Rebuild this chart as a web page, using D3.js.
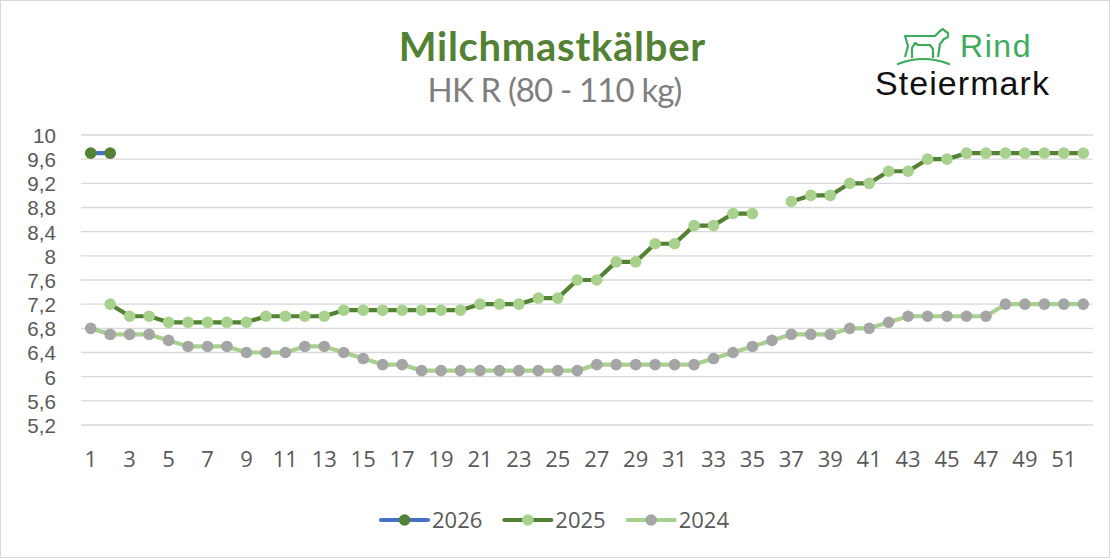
<!DOCTYPE html>
<html>
<head>
<meta charset="utf-8">
<script src="https://cdn.jsdelivr.net/npm/d3@7"></script>
<style>
  html, body { margin: 0; padding: 0; background: #fff; }
  svg { display: block; }
</style>
</head>
<body>
<svg id="chart" width="1110" height="558"></svg>
<script>
// ---------- data ----------
const weeks = d3.range(1, 53);
const xTickLabels = weeks.filter(w => w % 2 === 1);
const yTickValues = [5.2, 5.6, 6.0, 6.4, 6.8, 7.2, 7.6, 8.0, 8.4, 8.8, 9.2, 9.6, 10.0];
const seriesNames = ["2026", "2025", "2024"];

const values2026 = [9.7, 9.7].concat(new Array(50).fill(null));
const values2025 = [null, 7.2, 7.0, 7.0, 6.9, 6.9, 6.9, 6.9, 6.9, 7.0, 7.0, 7.0, 7.0,
  7.1, 7.1, 7.1, 7.1, 7.1, 7.1, 7.1, 7.2, 7.2, 7.2, 7.3, 7.3, 7.6, 7.6, 7.9, 7.9,
  8.2, 8.2, 8.5, 8.5, 8.7, 8.7, null, 8.9, 9.0, 9.0, 9.2, 9.2, 9.4, 9.4, 9.6, 9.6,
  9.7, 9.7, 9.7, 9.7, 9.7, 9.7, 9.7];
const values2024 = [6.8, 6.7, 6.7, 6.7, 6.6, 6.5, 6.5, 6.5, 6.4, 6.4, 6.4, 6.5, 6.5,
  6.4, 6.3, 6.2, 6.2, 6.1, 6.1, 6.1, 6.1, 6.1, 6.1, 6.1, 6.1, 6.1, 6.2, 6.2, 6.2,
  6.2, 6.2, 6.2, 6.3, 6.4, 6.5, 6.6, 6.7, 6.7, 6.7, 6.8, 6.8, 6.9, 7.0, 7.0, 7.0,
  7.0, 7.0, 7.2, 7.2, 7.2, 7.2, 7.2];

// ---------- styles ----------
const styles = {
  "2026": { line: "#4472C4", marker: "#548235" },
  "2025": { line: "#548235", marker: "#A9D18E" },
  "2024": { line: "#A9D18E", marker: "#A5A5A5" }
};
const seriesValues = { "2026": values2026, "2025": values2025, "2024": values2024 };
const FONT = "'Open Sans', 'Liberation Sans', sans-serif";
const YFONT = "'Liberation Sans', Arial, sans-serif";
const TFONT = "Lato, 'Open Sans', sans-serif";
const textColor = "#595959";

const svg = d3.select("#chart");
svg.append("rect").attr("x", 0.5).attr("y", 0.5).attr("width", 1109).attr("height", 557)
  .attr("fill", "#fff").attr("stroke", "#d9d9d9").attr("stroke-width", 1);

const x = d3.scaleBand().domain(weeks).range([81, 1093]);
const y = d3.scaleLinear().domain([5.2, 10]).range([425, 135]);
const cx = w => x(w) + x.bandwidth() / 2;

// gridlines
svg.append("g").selectAll("line").data(yTickValues).join("line")
  .attr("x1", 81).attr("x2", 1093)
  .attr("y1", d => y(d)).attr("y2", d => y(d))
  .attr("stroke", "#d9d9d9").attr("stroke-width", 1.3);

// y axis labels
const fmt = d => d3.format(".1~f")(d).replace(".", ",");
const yAxis = d3.axisLeft(y).tickValues(yTickValues).tickFormat(fmt).tickSize(0).tickPadding(0);
const gy = svg.append("g").attr("transform", "translate(56,0)").call(yAxis);
gy.select(".domain").remove();
gy.selectAll("text").attr("font-family", YFONT).attr("font-size", 20.6).attr("fill", textColor)
  .attr("dy", "0.36em");

// x axis labels
const xAxis = d3.axisBottom(x).tickValues(xTickLabels).tickSize(0).tickPadding(0);
const gx = svg.append("g").attr("transform", "translate(0,467)").call(xAxis);
gx.select(".domain").remove();
gx.selectAll("text").attr("font-family", FONT).attr("font-size", 22).attr("fill", textColor)
  .attr("dy", 0);

// series
const line = d3.line().defined(d => d.v != null).x(d => cx(d.w)).y(d => y(d.v));
seriesNames.slice().reverse().forEach(name => {
  const data = weeks.map((w, i) => ({ w, v: seriesValues[name][i] }));
  const g = svg.append("g");
  g.append("path").datum(data).attr("d", line).attr("fill", "none")
    .attr("stroke", styles[name].line).attr("stroke-width", 4.2)
    .attr("stroke-linejoin", "round");
  g.selectAll("circle").data(data.filter(d => d.v != null)).join("circle")
    .attr("cx", d => cx(d.w)).attr("cy", d => y(d.v)).attr("r", 5.8)
    .attr("fill", styles[name].marker);
});

// legend
const legend = svg.append("g");
let lx = 381;
const ly = 520;
seriesNames.forEach(name => {
  const g = legend.append("g");
  g.append("line").attr("x1", lx).attr("x2", lx + 47).attr("y1", ly).attr("y2", ly)
    .attr("stroke", styles[name].line).attr("stroke-width", 4.2).attr("stroke-linecap", "round");
  g.append("circle").attr("cx", lx + 23.5).attr("cy", ly).attr("r", 5.8).attr("fill", styles[name].marker);
  const t = g.append("text").attr("x", lx + 51).attr("y", ly).attr("dy", "0.36em")
    .attr("font-family", FONT).attr("font-size", 22).attr("fill", textColor).text(name);
  lx += 51 + t.node().getComputedTextLength() + 22;
});

// text fitting helper
function fitSpacing(sel, target) {
  const txt = sel.text();
  const len = sel.node().getComputedTextLength();
  const ls = (target - len) / txt.length;
  sel.attr("letter-spacing", ls);
  if (sel.attr("text-anchor") === "middle") sel.attr("x", +sel.attr("x") + ls / 2);
}
const title = svg.append("text").attr("x", 552).attr("y", 61).attr("text-anchor", "middle")
  .attr("font-family", TFONT).attr("font-weight", "bold").attr("font-size", 40)
  .attr("fill", "#548235").text("Milchmastkälber");
fitSpacing(title, 307);
const subtitle = svg.append("text").attr("x", 555).attr("y", 102).attr("text-anchor", "middle")
  .attr("font-family", TFONT).attr("font-size", 33)
  .attr("fill", "#7F7F7F").text("HK R (80 - 110 kg)");
fitSpacing(subtitle, 254);

// logo
const logo = svg.append("g");
const logoGreen = "#3DAA5C";
logo.append("path").attr("d", "M898,64 Q923,54 949,64")
  .attr("fill", "none").attr("stroke", logoGreen).attr("stroke-width", 2.2).attr("stroke-linecap", "round");
logo.append("path")
  .attr("d", "M905,57 L908,46 L905,36 L935,36 L940,31 L943,29 L945,31 L948,33 L948,37 L944,39 L940,44 L938,57")
  .attr("fill", "none").attr("stroke", logoGreen).attr("stroke-width", 2.2).attr("stroke-linejoin", "round");
logo.append("path")
  .attr("d", "M912,58 L912,48 L915,43 L918,45 L930,45 L933,49 L933,58")
  .attr("fill", "none").attr("stroke", logoGreen).attr("stroke-width", 2.2).attr("stroke-linejoin", "round");
const rind = logo.append("text").attr("x", 960).attr("y", 57)
  .attr("font-family", YFONT).attr("font-size", 32)
  .attr("fill", logoGreen).text("Rind");
fitSpacing(rind, 72);
const stm = logo.append("text").attr("x", 875).attr("y", 95)
  .attr("font-family", YFONT).attr("font-size", 34)
  .attr("fill", "#111").text("Steiermark");
fitSpacing(stm, 175);
</script>
</body>
</html>
